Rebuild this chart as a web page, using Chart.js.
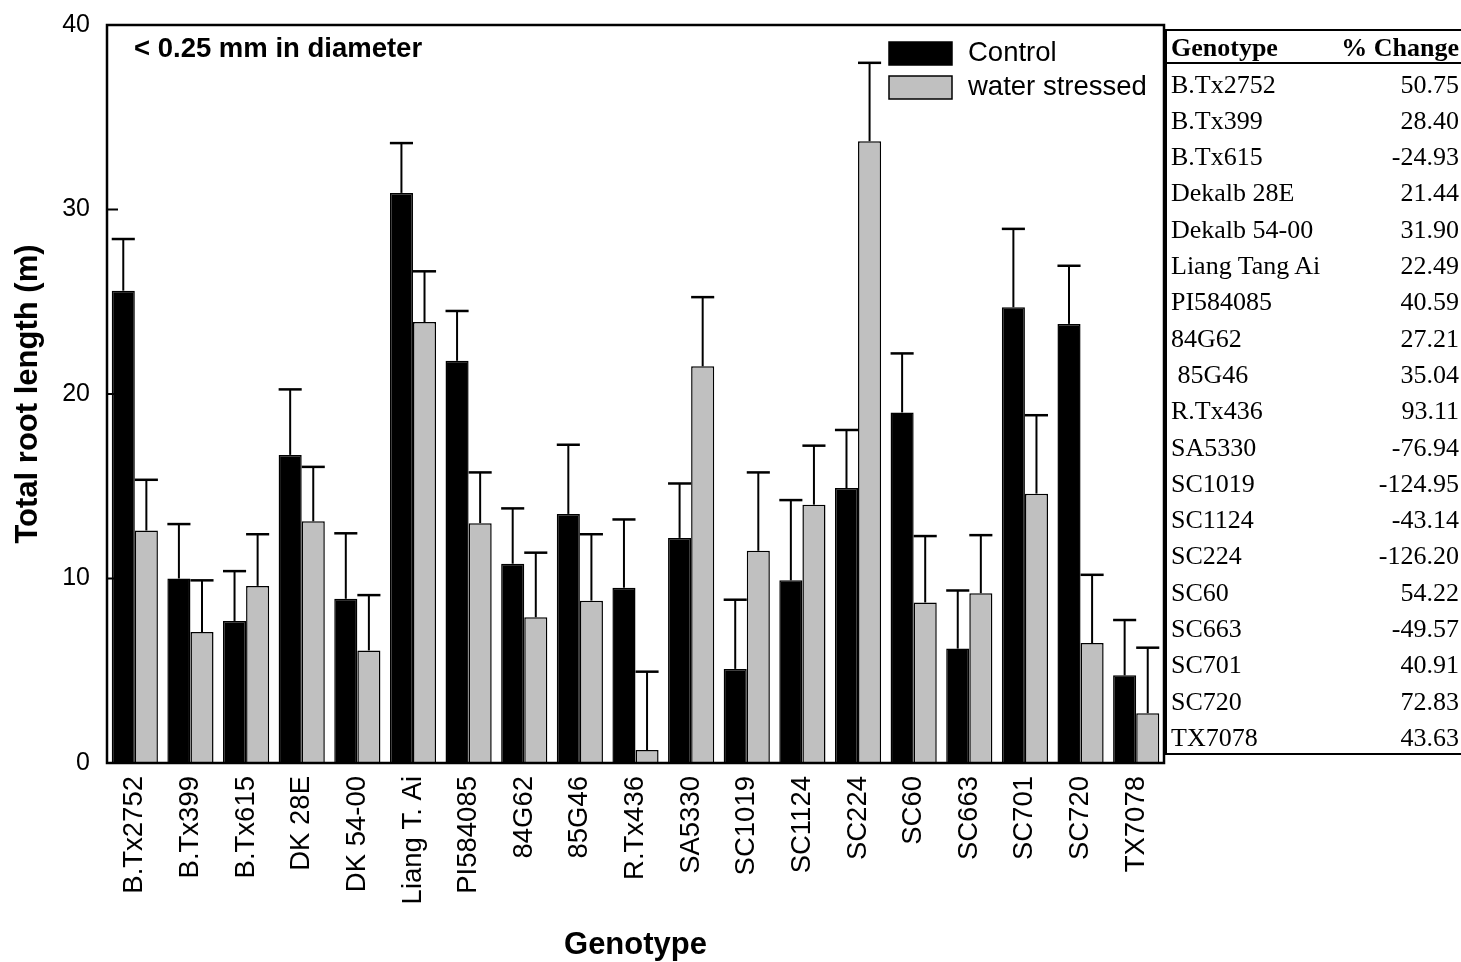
<!DOCTYPE html>
<html lang="en">
<head>
<meta charset="utf-8">
<title>Total root length by genotype</title>
<script src="https://cdn.jsdelivr.net/npm/chart.js@4.4.1/dist/chart.umd.min.js"></script>
<style>
  html, body { margin: 0; padding: 0; background: #fff; }
  #wrap { position: relative; width: 1461px; height: 962px; overflow: hidden; }
  #chart { position: absolute; left: 0; top: 0; }
  #tbl {
    position: absolute; left: 1165px; top: 29px; width: 296px; height: 726px;
    border-top: 2.5px solid #000; border-bottom: 2px solid #000; border-left: 2.5px solid #000;
    box-sizing: border-box;
  }
  #tbl .hline { position: absolute; left: 0; right: 0; top: 31px; height: 0; border-top: 2px solid #000; }
  #tbl .cell {
    position: absolute; font-family: 'Liberation Serif', 'Times New Roman', serif;
    font-size: 26px; line-height: 26px; color: #000; white-space: pre;
  }
  #tbl .head { font-weight: bold; }
  #tbl .name { left: 4px; }
  #tbl .val { right: 2px; text-align: right; }
</style>
</head>
<body>
<div id="wrap">
  <canvas id="chart" width="1461" height="962"></canvas>
  <div id="tbl"></div>
</div>
<script>
// genotype labels on the x axis
const genotypes = ['B.Tx2752', 'B.Tx399', 'B.Tx615', 'DK 28E', 'DK 54-00', 'Liang T. Ai', 'PI584085',
  '84G62', '85G46', 'R.Tx436', 'SA5330', 'SC1019', 'SC1124', 'SC224', 'SC60', 'SC663', 'SC701', 'SC720', 'TX7078'];

// total root length (m)
const control = [25.6, 10.0, 7.7, 16.7, 8.9, 30.9, 21.8, 10.8, 13.5, 9.5, 12.2, 5.1, 9.9, 14.9, 19.0, 6.2, 24.7, 23.8, 4.75];
const stressed = [12.6, 7.1, 9.6, 13.1, 6.1, 23.9, 13.0, 7.9, 8.8, 0.7, 21.5, 11.5, 14.0, 33.7, 8.7, 9.2, 14.6, 6.5, 2.7];
// upper error bar lengths
const controlErr = [2.8, 2.95, 2.7, 3.55, 3.55, 2.7, 2.7, 3.0, 3.75, 3.7, 2.95, 3.75, 4.35, 3.15, 3.2, 3.15, 4.25, 3.15, 3.0];
const stressedErr = [2.75, 2.8, 2.8, 2.95, 3.0, 2.75, 2.75, 3.5, 3.6, 4.25, 3.75, 4.25, 3.2, 4.25, 3.6, 3.15, 4.25, 3.7, 3.55];

const yTicks = [0, 10, 20, 30, 40];

// side table
const tableNames = ['B.Tx2752', 'B.Tx399', 'B.Tx615', 'Dekalb 28E', 'Dekalb 54-00', 'Liang Tang Ai', 'PI584085',
  '84G62', ' 85G46', 'R.Tx436', 'SA5330', 'SC1019', 'SC1124', 'SC224', 'SC60', 'SC663', 'SC701', 'SC720', 'TX7078'];
const pctChange = ['50.75', '28.40', '-24.93', '21.44', '31.90', '22.49', '40.59', '27.21', '35.04', '93.11',
  '-76.94', '-124.95', '-43.14', '-126.20', '54.22', '-49.57', '40.91', '72.83', '43.63'];

const sans = "'Liberation Sans', Arial, Helvetica, sans-serif";
const errors = [controlErr, stressedErr];

const extras = {
  id: 'extras',
  afterDatasetsDraw(chart) {
    const ctx = chart.ctx;
    const y = chart.scales.y;
    ctx.save();
    ctx.strokeStyle = '#000';
    chart.data.datasets.forEach((ds, d) => {
      chart.getDatasetMeta(d).data.forEach((bar, i) => {
        const top = y.getPixelForValue(ds.data[i] + errors[d][i]);
        const half = bar.width / 2;
        ctx.lineWidth = 2;
        ctx.beginPath();
        ctx.moveTo(bar.x, bar.y);
        ctx.lineTo(bar.x, top);
        ctx.stroke();
        ctx.lineWidth = 2.5;
        ctx.beginPath();
        ctx.moveTo(bar.x - half, top);
        ctx.lineTo(bar.x + half, top);
        ctx.stroke();
      });
    });
    ctx.restore();
  },
  afterDraw(chart) {
    const ctx = chart.ctx;
    const a = chart.chartArea;
    const y = chart.scales.y;
    ctx.save();
    // frame
    ctx.strokeStyle = '#000';
    ctx.lineWidth = 2.5;
    ctx.strokeRect(a.left, a.top, a.right - a.left, a.bottom - a.top);
    // inward ticks
    ctx.lineWidth = 2;
    yTicks.forEach(v => {
      const py = y.getPixelForValue(v);
      ctx.beginPath();
      ctx.moveTo(a.left, py);
      ctx.lineTo(a.left + 11, py);
      ctx.stroke();
    });
    // annotation
    ctx.fillStyle = '#000';
    ctx.font = 'bold 27.5px ' + sans;
    ctx.textBaseline = 'alphabetic';
    ctx.textAlign = 'left';
    ctx.fillText('< 0.25 mm in diameter', 134, 57);
    // legend
    ctx.font = '27.5px ' + sans;
    ctx.textBaseline = 'middle';
    chart.data.datasets.forEach((ds, d) => {
      const top = 42 + d * 34;
      ctx.fillStyle = ds.backgroundColor;
      ctx.fillRect(889, top, 63, 23);
      ctx.lineWidth = 1.5;
      ctx.strokeRect(889, top, 63, 23);
      ctx.fillStyle = '#000';
      ctx.fillText(ds.label, 968, top + 11.5);
    });
    ctx.restore();
  }
};

new Chart(document.getElementById('chart'), {
  type: 'bar',
  data: {
    labels: genotypes,
    datasets: [
      { label: 'Control', data: control, backgroundColor: '#000000', borderColor: '#000', borderWidth: 1.5 },
      { label: 'water stressed', data: stressed, backgroundColor: '#c0c0c0', borderColor: '#000', borderWidth: 1.5 }
    ]
  },
  options: {
    responsive: false,
    animation: false,
    devicePixelRatio: 1,
    layout: { padding: { left: 0, top: 25, right: 297, bottom: 0 } },
    datasets: { bar: { categoryPercentage: 0.83, barPercentage: 1.0 } },
    plugins: { legend: { display: false }, tooltip: { enabled: false } },
    scales: {
      x: {
        grid: { display: false, drawTicks: false },
        border: { display: false },
        ticks: { color: '#000', font: { family: sans, size: 27.5 }, minRotation: 90, maxRotation: 90, padding: 13, autoSkip: false },
        title: { display: true, text: 'Genotype', color: '#000', font: { family: sans, size: 31, weight: 'bold' }, padding: { top: 0, bottom: -2 } },
        afterFit(scale) { scale.height = 199; scale.paddingLeft = 0; scale.paddingRight = 0; }
      },
      y: {
        min: 0,
        max: 40,
        afterBuildTicks(scale) { scale.ticks = yTicks.map(v => ({ value: v })); },
        grid: { display: false, drawTicks: false },
        border: { display: false },
        ticks: { color: '#000', font: { family: sans, size: 25 }, padding: 17 },
        title: { display: true, text: 'Total root length (m)', color: '#000', font: { family: sans, size: 31, weight: 'bold' }, padding: { top: 10, bottom: 0 } },
        afterFit(scale) { scale.width = 107; scale.paddingTop = 0; scale.paddingBottom = 0; }
      }
    }
  },
  plugins: [extras]
});

// side table as real text
const tbl = document.getElementById('tbl');
const add = (cls, text, top) => {
  const el = document.createElement('div');
  el.className = 'cell ' + cls;
  el.textContent = text;
  el.style.top = top + 'px';
  tbl.appendChild(el);
};
const line = document.createElement('div');
line.className = 'hline';
tbl.appendChild(line);
add('head name', 'Genotype', 4);
add('head val', '% Change', 4);
tableNames.forEach((n, i) => {
  const top = 40.5 + 36.3 * i;
  add('name', n, top);
  add('val', pctChange[i], top);
});
</script>
</body>
</html>
